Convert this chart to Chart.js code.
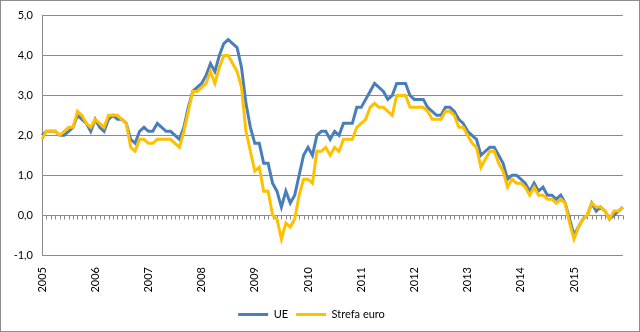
<!DOCTYPE html>
<html>
<head>
<meta charset="utf-8">
<script src="https://cdn.jsdelivr.net/npm/chart.js@4.4.1/dist/chart.umd.min.js"></script>
<style>
	html, body {margin: 0; padding: 0; background: #fff;}
	#wrap {width: 640px; height: 332px;}
</style>
</head>
<body>
<div id="wrap"><canvas id="myChart" width="640" height="332"></canvas></div>
<script>
// years shown on the category axis (one label per January)
const years = ['2005','2006','2007','2008','2009','2010','2011','2012','2013','2014','2015'];

// monthly values, Jan 2005 - Dec 2015
const ue = [
	2.0, 2.1, 2.1, 2.1, 2.0, 2.0, 2.1, 2.2, 2.5, 2.4, 2.3, 2.1,
	2.4, 2.2, 2.1, 2.4, 2.5, 2.4, 2.4, 2.3, 1.9, 1.8, 2.1, 2.2,
	2.1, 2.1, 2.3, 2.2, 2.1, 2.1, 2.0, 1.9, 2.2, 2.7, 3.1, 3.2,
	3.3, 3.5, 3.8, 3.6, 4.0, 4.3, 4.4, 4.3, 4.2, 3.7, 2.8, 2.2,
	1.8, 1.8, 1.3, 1.3, 0.8, 0.6, 0.2, 0.6, 0.3, 0.5, 1.0, 1.5,
	1.7, 1.5, 2.0, 2.1, 2.1, 1.9, 2.1, 2.0, 2.3, 2.3, 2.3, 2.7,
	2.7, 2.9, 3.1, 3.3, 3.2, 3.1, 2.9, 3.0, 3.3, 3.3, 3.3, 3.0,
	2.9, 2.9, 2.9, 2.7, 2.6, 2.5, 2.5, 2.7, 2.7, 2.6, 2.4, 2.3,
	2.1, 2.0, 1.9, 1.5, 1.6, 1.7, 1.7, 1.5, 1.3, 0.9, 1.0, 1.0,
	0.9, 0.8, 0.6, 0.8, 0.6, 0.7, 0.5, 0.5, 0.4, 0.5, 0.3, -0.1,
	-0.5, -0.3, -0.1, 0.0, 0.3, 0.1, 0.2, 0.1, -0.1, 0.0, 0.1, 0.2
];
const strefaEuro = [
	1.9, 2.1, 2.1, 2.1, 2.0, 2.1, 2.2, 2.2, 2.6, 2.5, 2.3, 2.2,
	2.4, 2.3, 2.2, 2.5, 2.5, 2.5, 2.4, 2.3, 1.7, 1.6, 1.9, 1.9,
	1.8, 1.8, 1.9, 1.9, 1.9, 1.9, 1.8, 1.7, 2.1, 2.6, 3.1, 3.1,
	3.2, 3.3, 3.6, 3.3, 3.7, 4.0, 4.0, 3.8, 3.6, 3.2, 2.1, 1.6,
	1.1, 1.2, 0.6, 0.6, 0.0, -0.1, -0.6, -0.2, -0.3, -0.1, 0.5, 0.9,
	0.9, 0.8, 1.6, 1.6, 1.7, 1.5, 1.7, 1.6, 1.9, 1.9, 1.9, 2.2,
	2.3, 2.4, 2.7, 2.8, 2.7, 2.7, 2.6, 2.5, 3.0, 3.0, 3.0, 2.7,
	2.7, 2.7, 2.7, 2.6, 2.4, 2.4, 2.4, 2.6, 2.6, 2.5, 2.2, 2.2,
	2.0, 1.8, 1.7, 1.2, 1.4, 1.6, 1.6, 1.3, 1.1, 0.7, 0.9, 0.8,
	0.8, 0.7, 0.5, 0.7, 0.5, 0.5, 0.4, 0.4, 0.3, 0.4, 0.3, -0.2,
	-0.6, -0.3, -0.1, 0.0, 0.3, 0.2, 0.2, 0.1, -0.1, 0.1, 0.1, 0.2
];

// y axis range
const yMin = -1;
const yMax = 5;
const yStep = 1;

// one category per month
const months = [];
years.forEach(y => {
	for (let m = 1; m <= 12; m++) months.push(y + '-' + String(m).padStart(2, '0'));
});

const gridColor = '#8a8a8a';
const fontFamily = 'Lato, "Liberation Sans", sans-serif';

// small tick marks on the zero line, one per month
const zeroLineTicks = {
	id: 'zeroLineTicks',
	beforeDatasetsDraw(chart) {
		const {ctx, scales: {x, y}} = chart;
		const y0 = Math.round(y.getPixelForValue(0)) + 0.5;
		ctx.save();
		ctx.strokeStyle = gridColor;
		ctx.lineWidth = 1;
		ctx.beginPath();
		for (let i = 0; i < months.length; i++) {
			const px = Math.round(x.getPixelForValue(i)) + 0.5;
			ctx.moveTo(px, y0);
			ctx.lineTo(px, y0 + 4);
		}
		ctx.stroke();
		ctx.restore();
	}
};

// chart area frame
const outerFrame = {
	id: 'outerFrame',
	afterDraw(chart) {
		const ctx = chart.ctx;
		ctx.save();
		ctx.strokeStyle = '#8c8c8c';
		ctx.lineWidth = 1;
		ctx.strokeRect(0.5, 0.5, chart.width - 1, chart.height - 1);
		ctx.restore();
	}
};

new Chart(document.getElementById('myChart'), {
	type: 'line',
	data: {
		labels: months,
		datasets: [{
			label: 'UE',
			data: ue,
			borderColor: '#4a7ebb',
			backgroundColor: '#4a7ebb',
			borderWidth: 3,
			pointRadius: 0,
			tension: 0,
			order: 1
		}, {
			label: 'Strefa euro',
			data: strefaEuro,
			borderColor: '#ffc000',
			backgroundColor: '#ffc000',
			borderWidth: 3,
			pointRadius: 0,
			tension: 0,
			order: 0
		}]
	},
	options: {
		responsive: false,
		animation: false,
		layout: {padding: {top: 14, right: 17, left: 0, bottom: 2}},
		plugins: {
			tooltip: {enabled: false},
			legend: {
				position: 'bottom',
				labels: {
					font: {family: fontFamily, size: 11},
					color: '#000',
					usePointStyle: true,
					pointStyle: 'line',
					pointStyleWidth: 30,
					padding: 8,
					sort: (a, b) => a.datasetIndex - b.datasetIndex
				}
			}
		},
		scales: {
			x: {
				offset: false,
				grid: {display: false},
				border: {display: false},
				ticks: {
					autoSkip: false,
					minRotation: 90,
					maxRotation: 90,
					padding: 4,
					color: '#000',
					font: {family: fontFamily, size: 11},
					callback: (v, i) => (i % 12 === 0 ? years[i / 12] : '')
				},
				afterFit: (s) => { s.height = 46; }
			},
			y: {
				min: yMin,
				max: yMax,
				grid: {color: gridColor, drawTicks: false},
				border: {color: gridColor},
				ticks: {
					stepSize: yStep,
					padding: 9,
					color: '#000',
					font: {family: fontFamily, size: 11},
					callback: (v) => v.toFixed(1).replace('.', ',')
				},
				afterFit: (s) => { s.width = 42; }
			}
		}
	},
	plugins: [zeroLineTicks, outerFrame]
});
</script>
</body>
</html>
